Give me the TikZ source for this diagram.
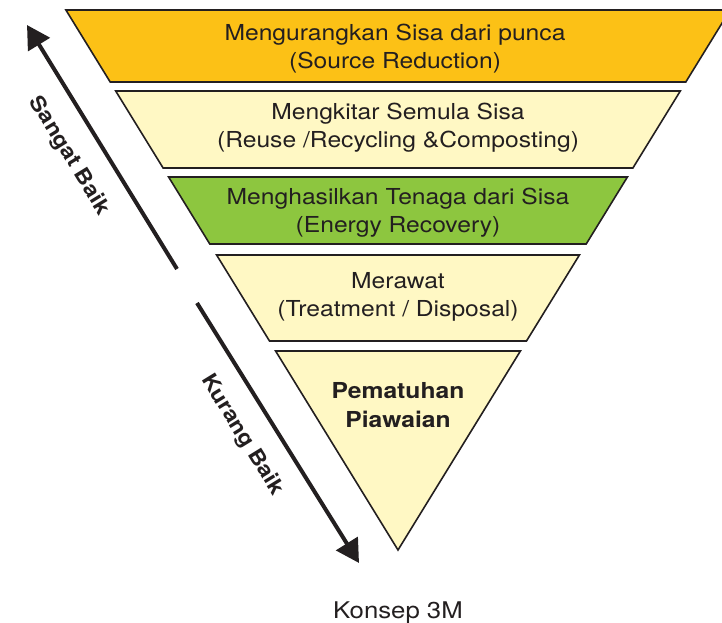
\documentclass[tikz,border=0pt]{standalone}
\usepackage{fontspec}
\setmainfont{TeX Gyre Heros}[FakeStretch=1.12]
\usetikzlibrary{arrows.meta}
\definecolor{ink}{HTML}{231F20}
\definecolor{orangeband}{HTML}{FCC116}
\definecolor{paleband}{HTML}{FFF8C4}
\definecolor{greenband}{HTML}{8DC63F}
\tikzset{
  band/.style={draw=ink, line width=1.6pt, line join=miter},
  bandtext/.style={text=ink, align=center, font=\fontsize{22}{28}\selectfont, inner sep=0pt},
  boldtext/.style={text=ink, align=center, font=\fontsize{22}{29}\selectfont\bfseries, inner sep=0pt},
  sidetext/.style={text=ink, font=\fontsize{21}{25}\selectfont\bfseries, inner sep=0pt, rotate=-58.4},
  arrowline/.style={draw=ink, line width=4pt, -{Triangle[length=23pt,width=25pt]}}
}
\begin{document}
\begin{tikzpicture}[x=1pt,y=-1pt]
\useasboundingbox (0,0) rectangle (722,623);
\clip (0,0) rectangle (722,623);
% bands
\filldraw[band, fill=orangeband] (65.9,10) -- (730.1,10) -- (685.8,82) -- (110.2,82) -- cycle;
\filldraw[band, fill=paleband] (115.7,91) -- (680.3,91) -- (632.9,168) -- (163.1,168) -- cycle;
\filldraw[band, fill=greenband] (168.6,177) -- (627.4,177) -- (586.2,244) -- (209.8,244) -- cycle;
\filldraw[band, fill=paleband] (216.6,255) -- (579.4,255) -- (526.5,341) -- (269.5,341) -- cycle;
\filldraw[band, fill=paleband] (275.6,351) -- (520.4,351) -- (398,550) -- cycle;
% band labels
\node[bandtext] (t1) at (395,48.5) {Mengurangkan Sisa dari punca\\(Source Reduction)};
\node[bandtext] (t2) at (398,128) {Mengkitar Semula Sisa\\(Reuse /Recycling \&Composting)};
\node[bandtext] (t3) at (398,212.5) {Menghasilkan Tenaga dari Sisa\\(Energy Recovery)};
\node[bandtext] (t4) at (398,296.5) {Merawat\\(Treatment / Disposal)};
\node[boldtext] (t5) at (398,405) {Pematuhan\\Piawaian};
% arrows
\coordinate (sbS) at (177,269);
\coordinate (sbE) at (27,25);
\coordinate (kbS) at (197,303);
\coordinate (kbE) at (359,563);
\draw[arrowline] (sbS) -- (sbE);
\draw[arrowline] (kbS) -- (kbE);
\node[sidetext] (sb) at (69,156) {Sangat Baik};
\node[sidetext] (kb) at (242,435) {Kurang Baik};
% caption
\node[text=ink, font=\fontsize{23}{28}\selectfont, inner sep=0pt, anchor=base] (cap) at (398,618) {Konsep 3M};
\end{tikzpicture}
\end{document}
